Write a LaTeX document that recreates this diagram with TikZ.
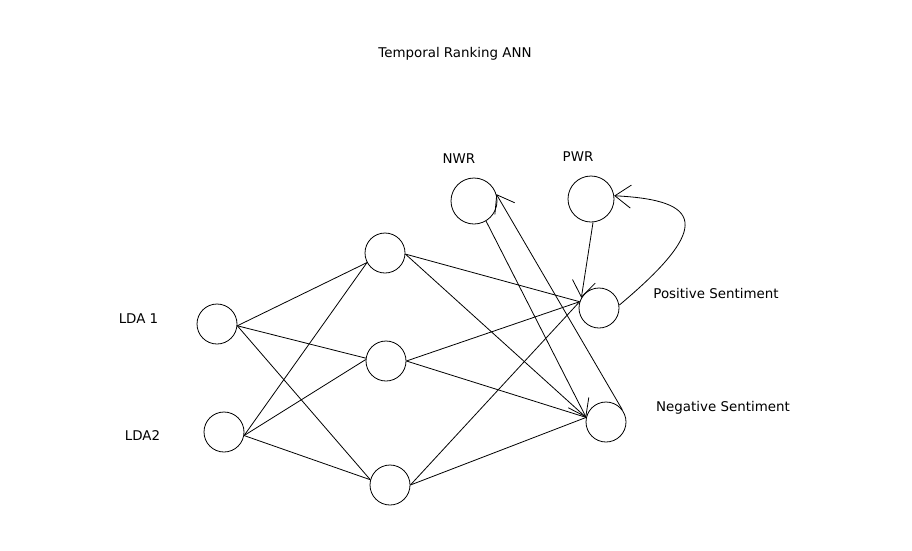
\documentclass[tikz,border=0pt]{standalone}
\usepackage{fontspec}
\setmainfont{DejaVu Sans}
\usetikzlibrary{arrows.meta}
\begin{document}
\begin{tikzpicture}[x=1pt,y=-1pt,line width=0.8pt,
		neuron/.style={draw,circle,minimum size=40pt,inner sep=0pt},
		bigneuron/.style={neuron,minimum size=46pt},
		lbl/.style={font=\fontsize{13.4}{15}\selectfont,anchor=base},
		arr/.style={-{Straight Barb[length=16pt,width=23pt,line width=0.8pt]}}]
		\useasboundingbox (0,0) rectangle (912,550);
		\node[lbl] (title) at (455,57.5) {Temporal Ranking ANN};
		% input layer
		\node[neuron] (lda1) at (217,324) {};
		\node[neuron] (lda2) at (224,432) {};
		\node[lbl] (lda1lbl) at (138.5,323.5) {LDA 1};
		\node[lbl] (lda2lbl) at (142.5,440) {LDA2};
		% hidden layer
		\node[neuron] (h1) at (385,253) {};
		\node[neuron] (h2) at (386,361) {};
		\node[neuron] (h3) at (390,485) {};
		% output layer
		\node[neuron] (pos) at (599,308) {};
		\node[neuron] (neg) at (606,422) {};
		\node[lbl] (poslbl) at (716,298) {Positive Sentiment};
		\node[lbl] (neglbl) at (723,411.5) {Negative Sentiment};
		\node[bigneuron] (nwr) at (474,201) {};
		\node[bigneuron] (pwr) at (591,199) {};
		\node[lbl] (nwrlbl) at (459,163) {NWR};
		\node[lbl] (pwrlbl) at (578,161) {PWR};
		% weights
		\draw (lda1.-5)--(h1.208);
		\draw (lda1.-5)--(h2.172);
		\draw (lda1.-5)--(h3.165);
		\draw (lda2.-10)--(h1.208);
		\draw (lda2.-10)--(h2.176);
		\draw (lda2.-10)--(h3.165);
		\draw (h1.-3)--(pos.162);
		\draw (h1.-3)--(neg.167);
		\draw (h2.east)--(pos.162);
		\draw (h2.east)--(neg.167);
		\draw (h3.east)--(pos.162);
		\draw (h3.east)--(neg.167);
		% recurrent links
		\draw[arr] (nwr.-59)--(neg.167);
		\draw[arr] (neg.37)--(nwr.17);
		\draw[arr] (pwr.-85)--(pos.150);
		\draw[arr] (pos.8) .. controls (715,225) and (700,200) .. (pwr.8);
\end{tikzpicture}
\end{document}
